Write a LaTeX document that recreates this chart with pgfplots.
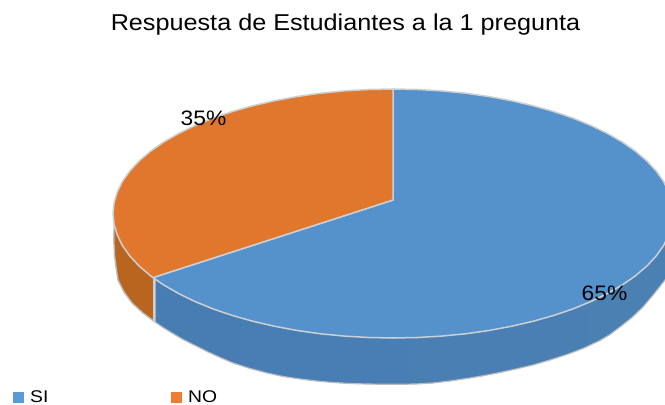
\documentclass[border=0pt]{standalone}
\usepackage{fontspec}
\setmainfont{Liberation Sans}
\usepackage{pgfplots}
\pgfplotsset{compat=1.18}
\definecolor{blueTop}{HTML}{5592CB}
\definecolor{orangeTop}{HTML}{E1772D}
\definecolor{orangeWall}{HTML}{B9641F}
\definecolor{blueWallA}{HTML}{477DB3}
\definecolor{blueWallB}{HTML}{4F8AC4}
\definecolor{blueWallC}{HTML}{4A80B2}
\definecolor{rim}{HTML}{CCD0D4}
\definecolor{rimOut}{HTML}{BBBEC1}
\definecolor{legBlue}{HTML}{5B9BD5}
\definecolor{legOrange}{HTML}{ED7D31}
\begin{document}
\begin{tikzpicture}
\begin{axis}[
  scale only axis, width=665bp, height=405bp,
  xmin=0, xmax=665, ymin=0, ymax=405, y dir=reverse,
  axis line style={draw=none}, ticks=none,
  axis background/.style={fill=white},
  line join=round,
]
% blue side wall
\addplot[draw=rimOut, line width=1.2bp, left color=blueWallA, middle color=blueWallB, right color=blueWallC] coordinates {
(155,277.6)(155,322)(163,327.5)(172,333)(183,339.5)(195,345.5)(207,351.5)(220,357.5)(233,363)(250,368.5)(267,373)(283,376.5)(300,379)(316,381)(333,382.5)(350,383.5)(367,384)(384,384.3)(400,384.3)(416,384)(433,383)(450,381)(467,378.5)(483,375.8)(500,372.5)(516,369)(533,365)(550,360)(567,354.5)(583,348.5)(600,340.5)(610,334.5)(620,327)(632,317.5)(643,307)(654,294)(665,280)(672,270)
(672,224.4)(635.5,275.75)(533,321.3)(393,338)(253,321.3)
} -- cycle;
% orange side wall
\addplot[draw=rimOut, line width=1.4bp, fill=orangeWall] coordinates {
(114.1,224.4)(113.8,240)(114.5,255)(116,267)(118,280)(124,292)(132,303)(143,313)(155,322)(155,277.6)(150.5,275.75)(122.5,245.7)
} -- cycle;
% wall separator
\addplot[draw=rim, line width=2bp] coordinates {(154,278)(154,322)};
% SI top
\addplot[draw=rim, line width=1.5bp, fill=blueTop] coordinates {
(393,200)(153,277.6)(163.6,284.9)(178.5,293.5)(195,301.5)(213,308.9)(232.4,315.5)(253,321.3)(274.7,326.3)(297.2,330.5)(320.5,333.8)(344.4,336.1)(368.6,337.5)(393,338)(417.4,337.5)(441.6,336.1)(465.5,333.8)(488.8,330.5)(511.3,326.3)(533,321.3)(553.6,315.5)(573,308.9)(591,301.5)(607.5,293.5)(622.4,284.9)(635.5,275.75)(646.8,266.1)(656.1,256.1)(663.5,245.7)(668.7,235.1)(671.9,224.4)(673,213.5)(671.9,202.6)(668.7,191.9)(663.5,181.3)(656.1,170.9)(646.8,160.9)(635.5,151.25)(622.4,142.1)(607.5,133.5)(591,125.5)(573,118.1)(553.6,111.5)(533,105.7)(511.3,100.7)(488.8,96.5)(465.5,93.2)(441.6,90.9)(417.4,89.5)(393,89)
} -- cycle;
% NO top
\addplot[draw=rim, line width=1.5bp, fill=orangeTop] coordinates {
(393,200)(393,89)(368.6,89.5)(344.4,90.9)(320.5,93.2)(297.2,96.5)(274.7,100.7)(253,105.7)(232.4,111.5)(213,118.1)(195,125.5)(178.5,133.5)(163.6,142.1)(150.5,151.25)(139.2,160.9)(129.9,170.9)(122.5,181.3)(117.3,191.9)(114.1,202.6)(113,213.5)(114.1,224.4)(117.3,235.1)(122.5,245.7)(129.9,256.1)(139.2,266.1)(150.5,275.75)(153,277.6)
} -- cycle;
% legend keys
\addplot[only marks, mark=square*, mark size=5bp, draw=legBlue, fill=legBlue, mark options={draw=legBlue, fill=legBlue, line width=0pt}] coordinates {(18,397.5)};
\addplot[only marks, mark=square*, mark size=5bp, draw=legOrange, fill=legOrange, mark options={draw=legOrange, fill=legOrange, line width=0pt}] coordinates {(176,397.5)};
\end{axis}
\node[anchor=base, inner sep=0pt, xscale=1.10, font=\fontsize{23}{24}\selectfont] at (345.5bp,405bp-31bp) {Respuesta de Estudiantes a la 1 pregunta};
\node[anchor=base, inner sep=0pt, xscale=1.09, font=\fontsize{21}{24}\selectfont] at (203.5bp,405bp-126bp) {35\%};
\node[anchor=base, inner sep=0pt, xscale=1.09, font=\fontsize{21}{24}\selectfont] at (604.5bp,405bp-301bp) {65\%};
\node[anchor=base west, inner sep=0pt, xscale=1.14, font=\fontsize{17}{20}\selectfont] at (30bp,405bp-402.5bp) {SI};
\node[anchor=base west, inner sep=0pt, xscale=1.14, font=\fontsize{17}{20}\selectfont] at (188bp,405bp-402.5bp) {NO};
\end{tikzpicture}
\end{document}
